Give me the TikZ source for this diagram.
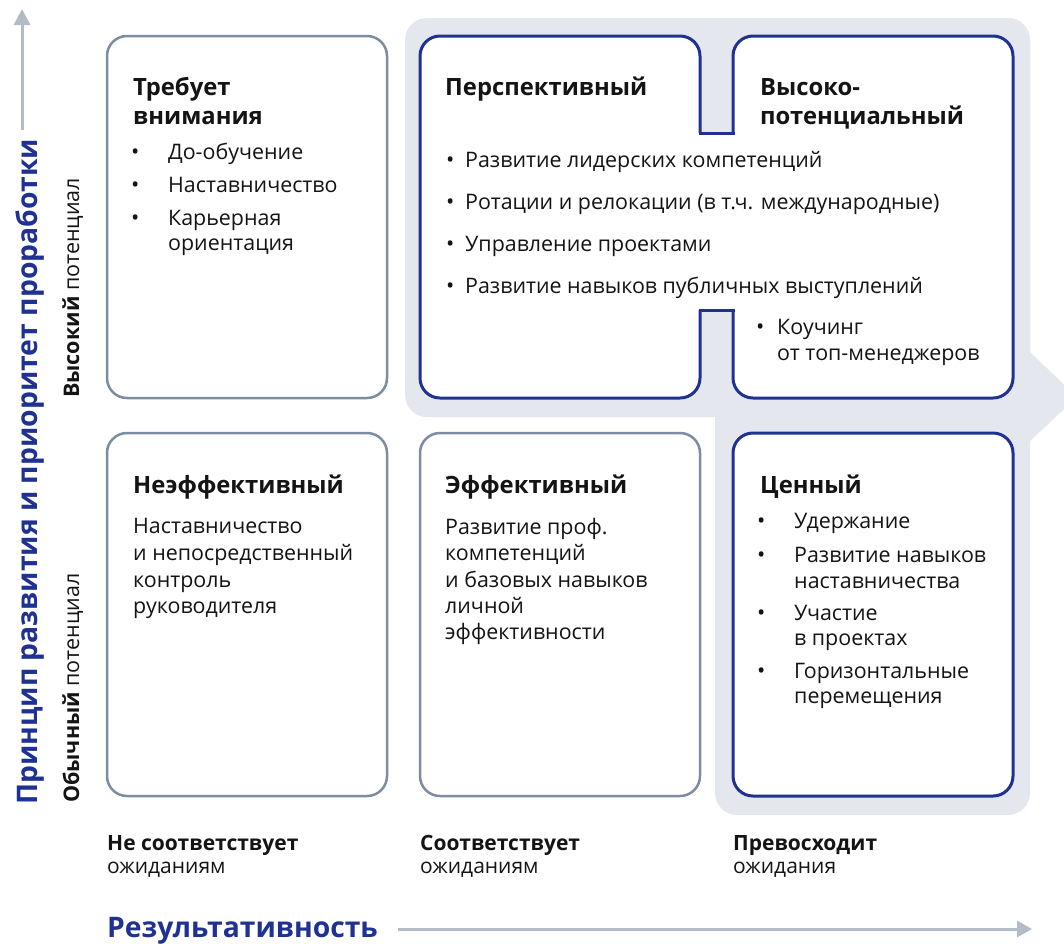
\documentclass[tikz,border=0pt]{standalone}
\usepackage{fontspec}
\setmainfont{Open Sans}
\usetikzlibrary{arrows.meta}
\definecolor{bgray}{HTML}{E4E7ED}
\definecolor{edgegray}{HTML}{7D8CA0}
\definecolor{navy}{HTML}{1F3192}
\definecolor{axisgray}{HTML}{B3BBC7}
\definecolor{txt}{HTML}{141414}
\begin{document}
\begin{tikzpicture}[x=1pt,y=-1pt,
  graybox/.style={draw=edgegray, line width=2.5pt, rounded corners=20pt, fill=white, minimum width=280pt, inner sep=0pt},
  bluebox/.style={graybox, draw=navy, line width=3pt},
  ttl/.style={anchor=base west, inner sep=0pt, font=\fontsize{23.8}{28}\selectfont\bfseries, text=txt},
  bd/.style={anchor=base west, inner sep=0pt, font=\fontsize{21.4}{25}\selectfont, text=txt},
  bul/.style={anchor=base west, inner sep=0pt, font=\fontsize{22}{25}\selectfont, text=txt},
  lbl/.style={anchor=base west, inner sep=0pt, font=\fontsize{21}{24}\selectfont, text=txt},
  lblb/.style={lbl, font=\fontsize{21}{24}\selectfont\bfseries},
  axt/.style={anchor=base west, inner sep=0pt, font=\fontsize{28.3}{32}\selectfont\bfseries, text=navy},
  pot/.style={anchor=base west, inner sep=0pt, rotate=90, font=\fontsize{21.5}{24}\selectfont, text=txt},
  axline/.style={draw=axisgray, line width=3pt}
]
\useasboundingbox (0,0) rectangle (1064,943);
\clip (0,0) rectangle (1064,943);
\fill[white] (0,0) rectangle (1064,943);

% background highlight
\fill[bgray, rounded corners=22pt] (405,18) rectangle (1030,417);
\fill[bgray, rounded corners=22pt] (715,18) rectangle (1030,815);
\fill[bgray] (1028,350) -- (1077,397) -- (1028,443) -- cycle;

% boxes
\node[graybox, minimum height=362pt] (b11) at (247,217) {};
\node[bluebox, minimum height=362pt] (b12) at (560,217) {};
\node[bluebox, minimum height=362pt] (b13) at (873,217) {};
\node[graybox, minimum height=363pt] (b21) at (247,614.5) {};
\node[graybox, minimum height=363pt] (b22) at (560,614.5) {};
\node[bluebox, minimum height=363pt] (b23) at (873,614.5) {};

% junction between the two blue boxes
\fill[white] (698.2,133) rectangle (734.8,310);
\coordinate (j1) at (700,133); \coordinate (j2) at (733,133);
\coordinate (j3) at (700,310); \coordinate (j4) at (733,310);
\draw[navy, line width=3pt, line cap=rect] (j1) -- (j2);
\draw[navy, line width=3pt, line cap=rect] (j3) -- (j4);

% box 1,1
\node[ttl] (t11a) at (133,95) {Требует};
\node[ttl] (t11b) at (133,124) {внимания};
\node[bul] (u111) at (131,159) {•};
\node[bd] (x111) at (168,159) {До-обучение};
\node[bul] (u112) at (131,192) {•};
\node[bd] (x112) at (168,192) {Наставничество};
\node[bul] (u113) at (131,225) {•};
\node[bd] (x113) at (168,225) {Карьерная};
\node[bd] (x114) at (168,250) {ориентация};

% box 1,2
\node[ttl] (t12) at (445,95) {Перспективный};
\node[bul] (u121) at (446,167) {•};
\node[bd] (x121) at (465,167) {Развитие лидерских компетенций};
\node[bul] (u122) at (446,209) {•};
\node[bd] (x122) at (465,209) {Ротации и релокации (в т.ч. международные)};
\node[bul] (u123) at (446,251) {•};
\node[bd] (x123) at (465,251) {Управление проектами};
\node[bul] (u124) at (446,293) {•};
\node[bd] (x124) at (465,293) {Развитие навыков публичных выступлений};
\node[bul] (u125) at (756,334) {•};
\node[bd] (x125) at (777,334) {Коучинг};
\node[bd] (x126) at (777,360) {от топ-менеджеров};

% box 1,3
\node[ttl] (t13a) at (760,95) {Высоко-};
\node[ttl] (t13b) at (760,124) {потенциальный};

% box 2,1
\node[ttl] (t21) at (133,493) {Неэффективный};
\node[bd] (x211) at (133,533) {Наставничество};
\node[bd] (x212) at (133,560) {и непосредственный};
\node[bd] (x213) at (133,587) {контроль};
\node[bd] (x214) at (133,613) {руководителя};

% box 2,2
\node[ttl] (t22) at (445,493) {Эффективный};
\node[bd] (x221) at (445,534) {Развитие проф.};
\node[bd] (x222) at (445,560) {компетенций};
\node[bd] (x223) at (445,587) {и базовых навыков};
\node[bd] (x224) at (445,613) {личной};
\node[bd] (x225) at (445,639) {эффективности};

% box 2,3
\node[ttl] (t23) at (760,493) {Ценный};
\node[bul] (u231) at (757,528) {•};
\node[bd] (x231) at (794,528) {Удержание};
\node[bul] (u232) at (757,562) {•};
\node[bd] (x232) at (794,562) {Развитие навыков};
\node[bd] (x233) at (794,588) {наставничества};
\node[bul] (u234) at (757,620) {•};
\node[bd] (x234) at (794,620) {Участие};
\node[bd] (x235) at (794,645) {в проектах};
\node[bul] (u236) at (757,678) {•};
\node[bd] (x236) at (794,678) {Горизонтальные};
\node[bd] (x237) at (794,703) {перемещения};

% column labels
\node[lblb] (c1a) at (107,850) {Не соответствует};
\node[lbl] (c1b) at (107,873) {ожиданиям};
\node[lblb] (c2a) at (420,850) {Соответствует};
\node[lbl] (c2b) at (420,873) {ожиданиям};
\node[lblb] (c3a) at (733,850) {Превосходит};
\node[lbl] (c3b) at (733,873) {ожидания};

% row labels
\node[pot] (r1) at (79,398) {\textbf{Высокий} потенциал};
\node[pot] (r2) at (79,803) {\textbf{Обычный} потенциал};

% axes
\node[axt] (ax) at (107,937) {Результативность};
\node[axt, rotate=90] (ay) at (37,805) {Принцип развития и приоритет проработки};
\coordinate (hx0) at (398,929); \coordinate (hx1) at (1032,929);
\draw[axline, -{Triangle[width=16pt,length=15pt]}] (hx0) -- (hx1);
\coordinate (vy0) at (22,130); \coordinate (vy1) at (22,9);
\draw[axline, -{Triangle[width=16pt,length=16pt]}] (vy0) -- (vy1);
\end{tikzpicture}
\end{document}
